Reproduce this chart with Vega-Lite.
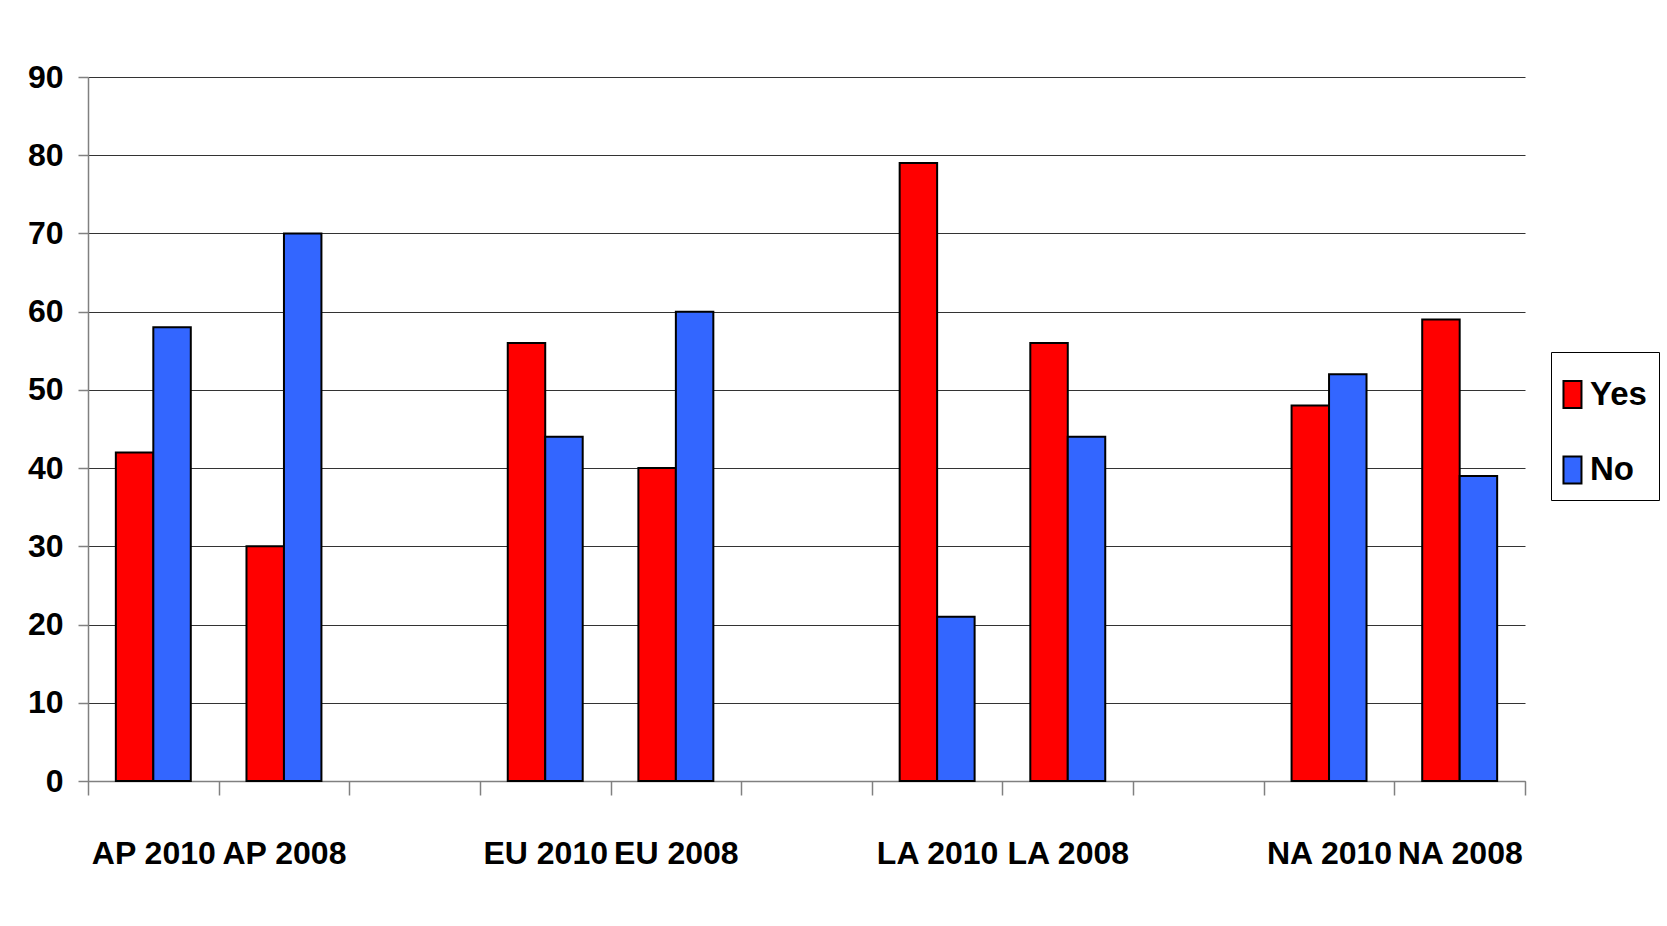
{
  "$schema": "https://vega.github.io/schema/vega-lite/v6.json",
  "width": 1437,
  "height": 704,
  "autosize": {"type": "none"},
  "padding": {"left": 88, "top": 77, "right": 142, "bottom": 145},
  "background": "white",
  "config": {
    "view": {"stroke": null},
    "font": "Liberation Sans, Arial, sans-serif"
  },
  "data": {
    "values": [
      {"group": "AP 2010", "answer": "Yes", "value": 42},
      {"group": "AP 2010", "answer": "No", "value": 58},
      {"group": "AP 2008", "answer": "Yes", "value": 30},
      {"group": "AP 2008", "answer": "No", "value": 70},
      {"group": "EU 2010", "answer": "Yes", "value": 56},
      {"group": "EU 2010", "answer": "No", "value": 44},
      {"group": "EU 2008", "answer": "Yes", "value": 40},
      {"group": "EU 2008", "answer": "No", "value": 60},
      {"group": "LA 2010", "answer": "Yes", "value": 79},
      {"group": "LA 2010", "answer": "No", "value": 21},
      {"group": "LA 2008", "answer": "Yes", "value": 56},
      {"group": "LA 2008", "answer": "No", "value": 44},
      {"group": "NA 2010", "answer": "Yes", "value": 48},
      {"group": "NA 2010", "answer": "No", "value": 52},
      {"group": "NA 2008", "answer": "Yes", "value": 59},
      {"group": "NA 2008", "answer": "No", "value": 39}
    ]
  },
  "mark": {"type": "bar", "stroke": "black", "strokeWidth": 2},
  "encoding": {
    "x": {
      "field": "group",
      "type": "nominal",
      "scale": {
        "domain": ["AP 2010", "AP 2008", " ", "EU 2010", "EU 2008", "  ", "LA 2010", "LA 2008", "   ", "NA 2010", "NA 2008"],
        "paddingInner": 0,
        "paddingOuter": 0
      },
      "axis": {
        "title": null,
        "labelAngle": 0,
        "labelFont": "Liberation Sans, Arial, sans-serif",
        "labelFontSize": 32,
        "labelFontWeight": "bold",
        "labelColor": "black",
        "labelBaseline": "alphabetic",
        "labelPadding": 68,
        "labelOverlap": false,
        "labelBound": false,
        "labelFlush": false,
        "tickBand": "extent",
        "tickSize": 14,
        "tickColor": "#808080",
        "tickWidth": 1.5,
        "domainColor": "#808080",
        "domainWidth": 1.5,
        "grid": false
      }
    },
    "xOffset": {
      "field": "answer",
      "type": "nominal",
      "sort": ["Yes", "No"],
      "scale": {"paddingInner": 0, "paddingOuter": 0.743}
    },
    "y": {
      "field": "value",
      "type": "quantitative",
      "scale": {"domain": [0, 90], "nice": false},
      "axis": {
        "title": null,
        "values": [0, 10, 20, 30, 40, 50, 60, 70, 80, 90],
        "labelFont": "Liberation Sans, Arial, sans-serif",
        "labelFontSize": 32,
        "labelFontWeight": "bold",
        "labelColor": "black",
        "labelPadding": 15,
        "labelFlush": false,
        "tickSize": 10,
        "tickColor": "#808080",
        "tickWidth": 1.5,
        "domainColor": "#808080",
        "domainWidth": 1.5,
        "grid": true,
        "gridColor": "#333333",
        "gridWidth": 1
      }
    },
    "color": {
      "field": "answer",
      "type": "nominal",
      "sort": ["Yes", "No"],
      "scale": {"domain": ["Yes", "No"], "range": ["#ff0000", "#3366ff"]},
      "legend": {
        "title": " ",
        "titleFontSize": 10,
        "titlePadding": 4,
        "orient": "none",
        "legendX": 1463,
        "legendY": 275,
        "direction": "vertical",
        "padding": 12,
        "strokeColor": "black",
        "fillColor": "white",
        "symbolType": "M-1.78,-1.5h2v3h-2z",
        "symbolSize": 324,
        "symbolStrokeColor": "black",
        "symbolStrokeWidth": 2,
        "symbolOpacity": 1,
        "labelFont": "Liberation Sans, Arial, sans-serif",
        "labelFontSize": 33,
        "labelFontWeight": "bold",
        "labelColor": "black",
        "labelOffset": -6,
        "rowPadding": 40.5
      }
    }
  }
}
